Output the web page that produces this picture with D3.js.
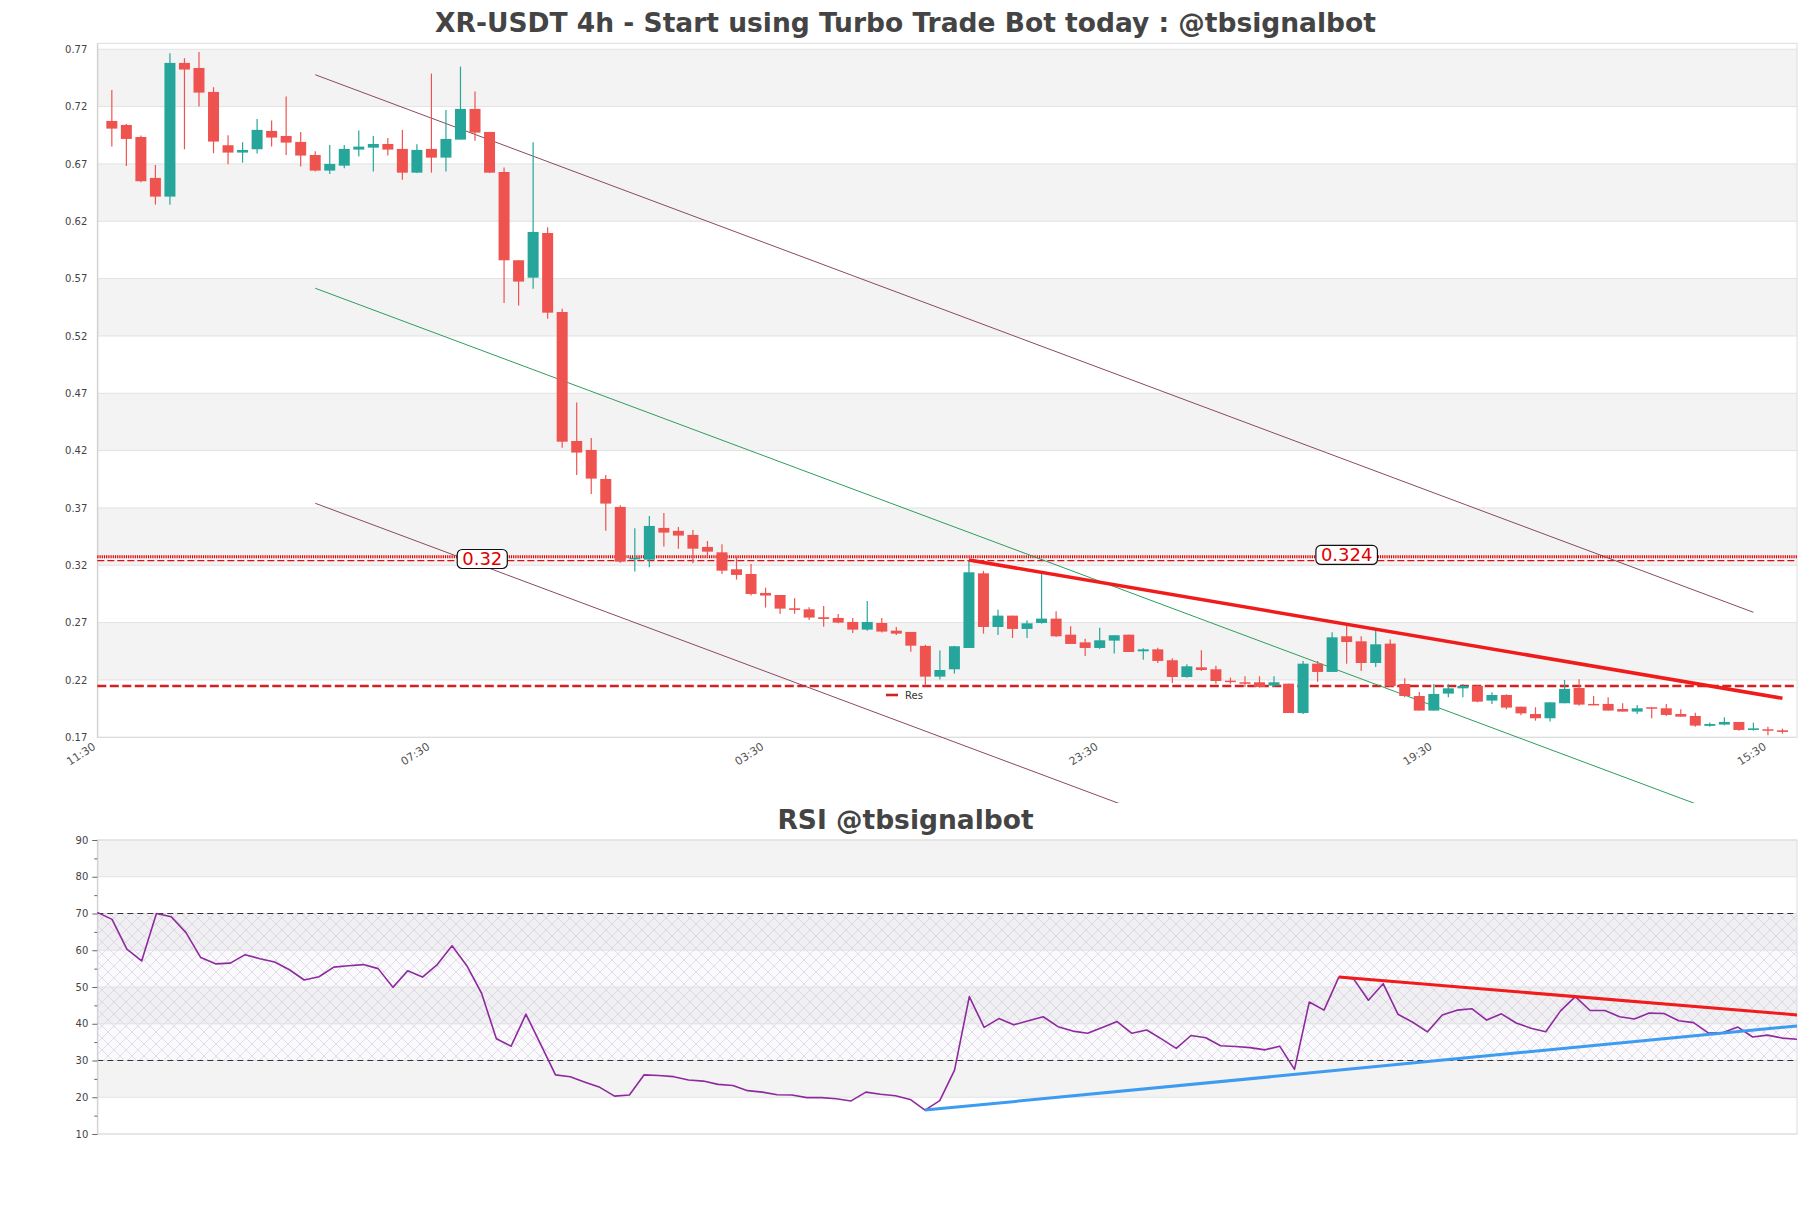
<!DOCTYPE html>
<html><head><meta charset="utf-8">
<script src="https://cdn.jsdelivr.net/npm/d3@7"></script>
<style>
body{margin:0;background:#fff;}
svg text{font-family:"DejaVu Sans",sans-serif;}
</style>
</head><body>
<svg id="c" width="1811" height="1208"></svg>
<script>
// ---------------- DATA ----------------
const opens = [0.7075,0.7040,0.6935,0.6578,0.6415,0.7581,0.7537,0.7328,0.6863,0.6799,
0.6828,0.6988,0.6944,0.6892,0.6778,0.6642,0.6685,0.6825,0.6842,0.6874,
0.6831,0.6624,0.6831,0.6755,0.6912,0.7180,0.6979,0.6630,0.5860,0.5708,
0.6098,0.5409,0.4284,0.4206,0.3953,0.3709,0.3255,0.3249,0.3526,0.3500,
0.3465,0.3360,0.3313,0.3165,0.3124,0.2959,0.2941,0.2825,0.2816,0.2747,
0.2741,0.2706,0.2639,0.2697,0.2630,0.2619,0.2497,0.2229,0.2293,0.2479,
0.3130,0.2662,0.2761,0.2645,0.2697,0.2735,0.2595,0.2528,0.2479,0.2543,
0.2595,0.2450,0.2467,0.2372,0.2226,0.2310,0.2293,0.2194,0.2180,0.2180,
0.2151,0.2168,0.1912,0.2342,0.2270,0.2581,0.2537,0.2348,0.2517,0.2165,
0.2060,0.1933,0.2081,0.2127,0.2148,0.2020,0.2069,0.1967,0.1903,0.1866,
0.1997,0.2130,0.1991,0.1991,0.1947,0.1924,0.1962,0.1953,0.1903,0.1886,
0.1800,0.1811,0.1834,0.1764,0.1770,0.1761];
const highs = [0.7345,0.7049,0.6947,0.6691,0.7665,0.7622,0.7677,0.7369,0.6950,0.6889,
0.7092,0.7078,0.7287,0.6979,0.6811,0.6866,0.6866,0.6991,0.6944,0.6927,
0.6997,0.6872,0.7488,0.7171,0.7549,0.7331,0.6980,0.6668,0.5860,0.6889,
0.6148,0.5438,0.4620,0.4310,0.3988,0.3724,0.3523,0.3630,0.3656,0.3534,
0.3508,0.3412,0.3383,0.3276,0.3212,0.3005,0.2942,0.2912,0.2834,0.2845,
0.2776,0.2741,0.2889,0.2741,0.2662,0.2619,0.2506,0.2456,0.2497,0.3238,
0.3151,0.2813,0.2761,0.2720,0.3127,0.2799,0.2668,0.2560,0.2656,0.2590,
0.2595,0.2476,0.2482,0.2389,0.2337,0.2459,0.2325,0.2220,0.2232,0.2232,
0.2232,0.2168,0.2366,0.2366,0.2616,0.2677,0.2581,0.2639,0.2552,0.2215,
0.2095,0.2165,0.2165,0.2165,0.2156,0.2092,0.2075,0.1967,0.1962,0.2005,
0.2200,0.2206,0.2060,0.2049,0.1997,0.1982,0.1962,0.1991,0.1944,0.1915,
0.1828,0.1874,0.1834,0.1828,0.1793,0.1776];
const lows = [0.6851,0.6683,0.6540,0.6345,0.6345,0.6828,0.7200,0.6793,0.6697,0.6711,
0.6790,0.6851,0.6778,0.6677,0.6633,0.6612,0.6662,0.6764,0.6633,0.6773,
0.6563,0.6620,0.6624,0.6633,0.6912,0.6903,0.6620,0.5488,0.5465,0.5612,
0.5351,0.4226,0.3988,0.3822,0.3502,0.3223,0.3145,0.3183,0.3363,0.3345,
0.3217,0.3276,0.3124,0.3075,0.2936,0.2831,0.2776,0.2777,0.2723,0.2665,
0.2694,0.2610,0.2630,0.2613,0.2593,0.2445,0.2150,0.2203,0.2256,0.2479,
0.2604,0.2592,0.2566,0.2566,0.2691,0.2575,0.2514,0.2409,0.2470,0.2430,
0.2444,0.2377,0.2348,0.2174,0.2220,0.2279,0.2168,0.2168,0.2139,0.2133,
0.2139,0.1912,0.1903,0.2185,0.2270,0.2342,0.2278,0.2313,0.2140,0.2049,
0.1933,0.1933,0.2049,0.2049,0.2005,0.1991,0.1944,0.1892,0.1845,0.1837,
0.1997,0.1976,0.1979,0.1933,0.1924,0.1903,0.1866,0.1886,0.1880,0.1793,
0.1793,0.1805,0.1758,0.1758,0.1718,0.1732];
const closes = [0.7008,0.6918,0.6549,0.6415,0.7581,0.7523,0.7322,0.6895,0.6799,0.6822,
0.6997,0.6930,0.6886,0.6773,0.6642,0.6700,0.6831,0.6851,0.6874,0.6825,
0.6624,0.6822,0.6755,0.6918,0.7180,0.6973,0.6624,0.5860,0.5674,0.6107,
0.5403,0.4278,0.4183,0.3956,0.3738,0.3232,0.3265,0.3543,0.3485,0.3459,
0.3345,0.3319,0.3153,0.3116,0.2950,0.2936,0.2822,0.2811,0.2744,0.2732,
0.2700,0.2639,0.2706,0.2622,0.2604,0.2499,0.2229,0.2287,0.2494,0.3139,
0.2662,0.2761,0.2645,0.2694,0.2735,0.2581,0.2514,0.2479,0.2546,0.2590,
0.2444,0.2467,0.2366,0.2226,0.2319,0.2287,0.2191,0.2183,0.2168,0.2139,
0.2180,0.1912,0.2342,0.2270,0.2572,0.2531,0.2348,0.2511,0.2147,0.2060,
0.1933,0.2078,0.2127,0.2148,0.2011,0.2069,0.1959,0.1909,0.1866,0.2005,
0.2122,0.1985,0.1985,0.1933,0.1924,0.1953,0.1950,0.1895,0.1880,0.1802,
0.1816,0.1834,0.1764,0.1778,0.1761,0.1747];

const rsi = [70.3,68.4,60.3,57.1,70.0,69.1,64.8,58.0,56.3,56.5,
58.8,57.7,56.8,54.7,51.9,52.8,55.4,55.8,56.1,55.0,
49.9,54.4,52.7,56.1,61.2,55.8,48.3,35.9,33.9,42.6,
34.4,26.1,25.6,24.1,22.7,20.3,20.6,26.1,25.9,25.6,
24.7,24.4,23.5,23.2,21.8,21.4,20.7,20.6,19.9,19.9,
19.6,19.0,21.4,20.8,20.4,19.4,16.5,19.1,27.4,47.4,
39.0,41.4,39.7,40.8,41.9,39.2,38.0,37.4,39.0,40.6,
37.4,38.3,35.9,33.3,36.8,36.2,34.0,33.8,33.5,32.9,
33.9,27.6,45.9,43.7,52.7,52.2,46.4,50.9,42.6,40.4,
37.8,42.4,43.7,44.1,41.0,42.7,40.2,38.8,37.8,43.5,
47.4,43.6,43.6,41.9,41.3,42.9,42.8,40.8,40.3,37.5,
37.6,39.1,36.4,36.9,36.1,35.8];

const xTickIndex = [-1,22,45,68,91,114];
const xTickLabels = ["11:30","07:30","03:30","23:30","19:30","15:30"];
const priceTicks = [0.17,0.22,0.27,0.32,0.37,0.42,0.47,0.52,0.57,0.62,0.67,0.72,0.77];
const rsiTicks = [10,20,30,40,50,60,70,80,90];
const rsiMinorTicks = [15,25,35,45,55,65,75,85];

// channel lines [startIdx, startVal, endIdx, endVal]
const channelUpper = [14,0.7478,113,0.2790];
const channelMid   = [14,0.5616,113,0.0932];
const channelLower = [14,0.3741,113,-0.0943];
const resistLine   = [59,0.3246,115,0.2040];
const levelDotted = 0.3275, levelDashed = 0.324, levelRes = 0.2147;
const levelLabels = [{t:"0.32",i:25.5,v:0.3255},{t:"0.324",i:85,v:0.329}];
const rsiRedLine  = [84,52.7,115,42.4];
const rsiBlueLine = [56,16.5,115,39.4];

// ---------------- CHART ----------------
const svg = d3.select("#c");
const L=97.3, R=1797;
const mTop=43.3, mBot=737.3;
const rTop=840, rBot=1134;

const x = d3.scaleLinear().domain([-1,116]).range([L,R]);
const y = d3.scaleLinear().domain([0.17,0.7752]).range([mBot,mTop]);
const xr = d3.scaleLinear().domain([0,115]).range([L,R]);
const yr = d3.scaleLinear().domain([10,90]).range([rBot,rTop]);

const RED="#ef5350", GREEN="#26a69a", BAND="#f3f3f3", GRID="#e2e2e2";

// title
svg.append("text").attr("x",905.5).attr("y",32).attr("text-anchor","middle")
  .attr("font-size",26.5).attr("font-weight","bold").attr("fill","#444")
  .text("XR-USDT 4h - Start using Turbo Trade Bot today : @tbsignalbot");

// main bands
const gMain = svg.append("g");
for(let k=0;k<priceTicks.length-1;k++){
  if((priceTicks.length-2-k)%2===0){
    gMain.append("rect").attr("x",L).attr("width",R-L)
      .attr("y",y(priceTicks[k+1])).attr("height",y(priceTicks[k])-y(priceTicks[k+1]))
      .attr("fill",BAND);
  }
}
gMain.selectAll("line.grid").data(priceTicks).join("line").attr("class","grid")
  .attr("x1",L).attr("x2",R).attr("y1",d=>y(d)).attr("y2",d=>y(d))
  .attr("stroke",GRID).attr("stroke-width",1);
// frame
gMain.append("rect").attr("x",L).attr("y",mTop).attr("width",R-L).attr("height",mBot-mTop)
  .attr("fill","none").attr("stroke","#dcdcdc").attr("stroke-width",1);

// y axis
const yAxis = d3.axisLeft(y).tickValues(priceTicks).tickFormat(d3.format(".2f")).tickSize(0).tickPadding(10);
const ya = gMain.append("g").attr("transform",`translate(${L},0)`).call(yAxis);
ya.select(".domain").attr("stroke","#ccc");
ya.selectAll("text").attr("font-size",10).attr("fill","#444").attr("font-family","DejaVu Sans");

// x labels
xTickIndex.forEach((d,k)=>{
  gMain.append("text").attr("transform",`translate(${x(d)-3},${mBot+8}) rotate(-33)`)
    .attr("text-anchor","end").attr("dy","0.35em").attr("font-size",11).attr("fill","#555")
    .text(xTickLabels[k]);
});

// clip for channel
svg.append("clipPath").attr("id","clipMain").append("rect").attr("x",L).attr("y",0).attr("width",R-L).attr("height",803);

// channel lines
const gCh = svg.append("g").attr("clip-path","url(#clipMain)");
[[channelUpper,"#8a4b60"],[channelMid,"#2e9e5b"],[channelLower,"#8a4b60"]].forEach(([c,col])=>{
  gCh.append("line").attr("x1",x(c[0])).attr("y1",y(c[1])).attr("x2",x(c[2])).attr("y2",y(c[3]))
    .attr("stroke",col).attr("stroke-width",1);
});

// horizontal levels
gMain.append("line").attr("x1",L).attr("x2",R).attr("y1",y(levelDotted)).attr("y2",y(levelDotted))
  .attr("stroke","#e00000").attr("stroke-width",3).attr("stroke-dasharray","1.2,1");
gMain.append("line").attr("x1",L).attr("x2",R).attr("y1",y(levelDashed)).attr("y2",y(levelDashed))
  .attr("stroke","#d81010").attr("stroke-width",1.3).attr("stroke-dasharray","7,3");
gMain.append("line").attr("x1",L).attr("x2",R).attr("y1",y(levelRes)).attr("y2",y(levelRes))
  .attr("stroke","#d42020").attr("stroke-width",2.6).attr("stroke-dasharray","9,3.5");

// candles
const idx = opens.map((_,i)=>i);
const gC = svg.append("g");
gC.selectAll("line.wick").data(idx).join("line").attr("class","wick")
  .attr("x1",i=>x(i)).attr("x2",i=>x(i)).attr("y1",i=>y(highs[i])).attr("y2",i=>y(lows[i]))
  .attr("stroke",i=>closes[i]>=opens[i]?GREEN:RED).attr("stroke-width",1.2);
gC.selectAll("rect.body").data(idx).join("rect").attr("class","body")
  .attr("x",i=>x(i)-5.5).attr("width",11)
  .attr("y",i=>y(Math.max(opens[i],closes[i])))
  .attr("height",i=>Math.max(1.5,Math.abs(y(opens[i])-y(closes[i]))))
  .attr("fill",i=>closes[i]>=opens[i]?GREEN:RED);

// resistance trend line
svg.append("line").attr("x1",x(resistLine[0])).attr("y1",y(resistLine[1]))
  .attr("x2",x(resistLine[2])).attr("y2",y(resistLine[3]))
  .attr("stroke","#f01c1c").attr("stroke-width",3.5);

// level labels
levelLabels.forEach(l=>{
  const g = svg.append("g").attr("transform",`translate(${x(l.i)},${y(l.v)})`);
  const t = g.append("text").attr("text-anchor","middle").attr("dy","0.36em")
    .attr("font-size",18).attr("fill","#e00000").text(l.t);
  const bb = t.node().getBBox();
  g.insert("rect","text").attr("x",bb.x-5).attr("y",-9.5).attr("width",bb.width+10).attr("height",19)
    .attr("rx",5).attr("fill","#fff").attr("stroke","#111").attr("stroke-width",1.2);
});

// legend
svg.append("line").attr("x1",886).attr("x2",898).attr("y1",695).attr("y2",695).attr("stroke","#d42020").attr("stroke-width",2.6);
svg.append("text").attr("x",905).attr("y",698.5).attr("font-size",10).attr("fill","#333").text("Res");

// ---------------- RSI ----------------
svg.append("text").attr("x",905.5).attr("y",829).attr("text-anchor","middle")
  .attr("font-size",26.5).attr("font-weight","bold").attr("fill","#444").text("RSI @tbsignalbot");

const defs = svg.append("defs");
const pat = defs.append("pattern").attr("id","hatch").attr("patternUnits","userSpaceOnUse")
  .attr("width",12).attr("height",12);
pat.append("path").attr("d","M0,0 L12,12 M12,0 L0,12").attr("stroke","#d2c6dc").attr("stroke-width",0.6).attr("fill","none");

const gR = svg.append("g");
for(let k=0;k<rsiTicks.length-1;k++){
  if((rsiTicks.length-2-k)%2===0){
    gR.append("rect").attr("x",L).attr("width",R-L)
      .attr("y",yr(rsiTicks[k+1])).attr("height",yr(rsiTicks[k])-yr(rsiTicks[k+1]))
      .attr("fill",BAND);
  }
}
gR.append("rect").attr("x",L).attr("width",R-L).attr("y",yr(70)).attr("height",yr(30)-yr(70))
  .attr("fill","#e8e0f0").attr("fill-opacity",0.2);
gR.append("rect").attr("x",L).attr("width",R-L).attr("y",yr(70)).attr("height",yr(30)-yr(70))
  .attr("fill","url(#hatch)");
gR.selectAll("line.grid").data(rsiTicks).join("line").attr("class","grid")
  .attr("x1",L).attr("x2",R).attr("y1",d=>yr(d)).attr("y2",d=>yr(d))
  .attr("stroke",GRID).attr("stroke-width",1);
gR.append("rect").attr("x",L).attr("y",rTop).attr("width",R-L).attr("height",rBot-rTop)
  .attr("fill","none").attr("stroke","#dcdcdc").attr("stroke-width",1);
[30,70].forEach(v=>{
  gR.append("line").attr("x1",L).attr("x2",R).attr("y1",yr(v)).attr("y2",yr(v))
    .attr("stroke","#333").attr("stroke-width",1.1).attr("stroke-dasharray","6,4");
});
const ryAxis = d3.axisLeft(yr).tickValues(rsiTicks).tickSize(5).tickPadding(4);
const rya = gR.append("g").attr("transform",`translate(${L},0)`).call(ryAxis);
rya.select(".domain").attr("stroke","#ccc");
rya.selectAll(".tick line").attr("stroke","#666");
rya.selectAll("text").attr("font-size",10).attr("fill","#444").attr("font-family","DejaVu Sans");
const rMinor = d3.axisLeft(yr).tickValues(rsiMinorTicks).tickSize(3).tickFormat("");
const rmi = gR.append("g").attr("transform",`translate(${L},0)`).call(rMinor);
rmi.select(".domain").remove();
rmi.selectAll(".tick line").attr("stroke","#666");

gR.append("path").datum(rsi).attr("fill","none").attr("stroke","#8e2a9e").attr("stroke-width",1.6)
  .attr("stroke-linejoin","round")
  .attr("d",d3.line().x((d,i)=>xr(i)).y(d=>yr(d)));

gR.append("line").attr("x1",xr(rsiRedLine[0])).attr("y1",yr(rsiRedLine[1]))
  .attr("x2",xr(rsiRedLine[2])).attr("y2",yr(rsiRedLine[3])).attr("stroke","#f01c1c").attr("stroke-width",3);
gR.append("line").attr("x1",xr(rsiBlueLine[0])).attr("y1",yr(rsiBlueLine[1]))
  .attr("x2",xr(rsiBlueLine[2])).attr("y2",yr(rsiBlueLine[3])).attr("stroke","#3d9bf0").attr("stroke-width",3);
</script>
</body></html>
